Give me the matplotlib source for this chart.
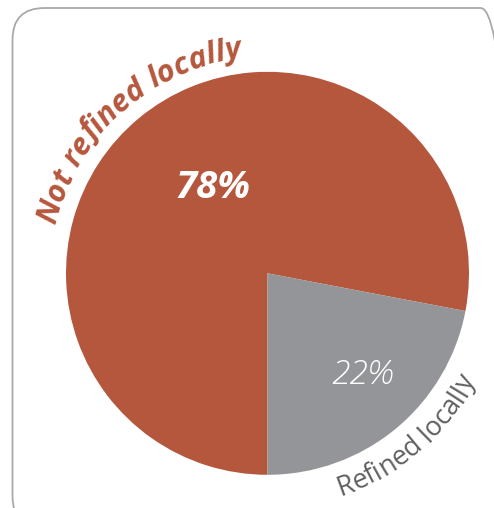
import numpy as np
import matplotlib
matplotlib.use("Agg")
import matplotlib.pyplot as plt
from matplotlib.patches import FancyBboxPatch
from matplotlib.font_manager import FontProperties

categories = ["Not refined locally", "Refined locally"]
values = [78, 22]
pct_labels = ["78%", "22%"]
colors = ["#B5573D", "#939598"]

W, H = 494, 508
fig = plt.figure(figsize=(W / 100, H / 100), dpi=100)
ax = fig.add_axes([0, 0, 1, 1])
cx, cy, R = 267.5, H - 273.3, 201.5

start = -90 - 360 * values[0] / sum(values)
ax.pie(values, colors=colors, startangle=start, counterclock=True,
       center=(cx, cy), radius=R, wedgeprops=dict(linewidth=0))
ax.set_xlim(0, W)
ax.set_ylim(0, H)
ax.set_aspect("equal")
ax.axis("off")

box = FancyBboxPatch((12.5, -20), 500, H - 8 + 20, boxstyle="round,pad=0,rounding_size=32",
                     fill=False, edgecolor="#A7A9AC", linewidth=1.3, clip_on=False)
ax.add_patch(box)

renderer = fig.canvas.get_renderer()

def char_widths(s, prop):
    def w(t):
        return renderer.get_text_width_height_descent(t, prop, ismath=False)[0]
    base = w("||")
    return [w("|" + c + "|") - base for c in s]

def curved_text(s, prop, color, radius, mid_angle, clockwise):
    ws = char_widths(s, prop)
    total = sum(ws)
    pos = -total / 2
    for c, wc in zip(s, ws):
        center = pos + wc / 2
        pos += wc
        dth = np.degrees(center / radius)
        th = mid_angle - dth if clockwise else mid_angle + dth
        t = np.radians(th)
        x, y = cx + radius * np.cos(t), cy + radius * np.sin(t)
        rot = th - 90 if clockwise else th + 90
        ax.text(x, y, c, fontproperties=prop, color=color, ha="center", va="baseline",
                rotation=rot, rotation_mode="anchor")

p_big = FontProperties(family=["Open Sans", "DejaVu Sans"], weight="bold", style="italic", size=22)
curved_text(categories[0], p_big, colors[0], 217, 132, clockwise=True)

p_small = FontProperties(family=["Open Sans", "DejaVu Sans"], weight="normal", size=19.5)
curved_text(categories[1], p_small, "#5F6062", 234, -49.5, clockwise=False)

ax.text(213, H - 188, pct_labels[0], color="white", fontsize=27.5, fontweight="bold",
        fontstyle="italic", family=["Open Sans", "DejaVu Sans"], ha="center", va="center")
ax.text(362, H - 375, pct_labels[1], color="white", fontsize=24, fontweight="light",
        fontstyle="italic", family=["Open Sans", "DejaVu Sans"], ha="center", va="center")

fig.savefig("out.png", dpi=100)
